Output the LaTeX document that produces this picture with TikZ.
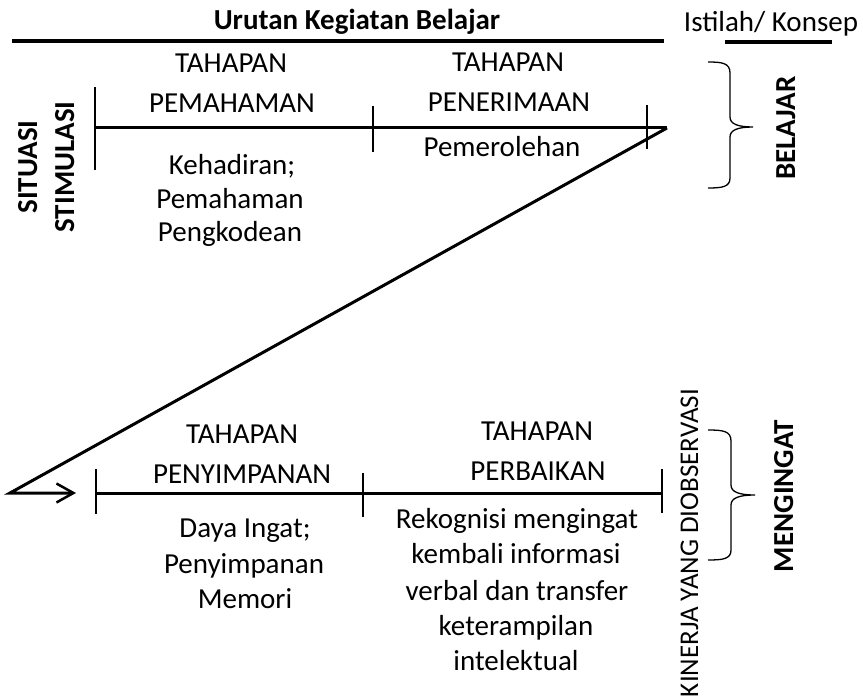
\documentclass[tikz,border=0pt]{standalone}
\usepackage{fontspec}
\setmainfont{Carlito}
\usetikzlibrary{arrows.meta}
\tikzset{
  txt/.style={font=\fontsize{29}{35}\selectfont, anchor=base, inner sep=0pt},
  btxt/.style={font=\fontsize{29}{35}\selectfont\bfseries, anchor=base, inner sep=0pt},
  rtxt/.style={font=\fontsize{27}{33}\selectfont, anchor=base, inner sep=0pt, rotate=90},
  rbtxt/.style={font=\fontsize{29}{35}\selectfont\bfseries, anchor=base, inner sep=0pt, rotate=90},
  mainline/.style={line width=3pt},
  tick/.style={line width=2pt},
  rule/.style={line width=4pt},
  bracepath/.style={line width=1.3pt}
}
\begin{document}
\begin{tikzpicture}[x=1pt,y=-1pt]
\useasboundingbox (0,0) rectangle (863,698);
% header
\node[btxt] (title) at (357,30) {Urutan Kegiatan Belajar};
\node[txt] (istilah) at (771,32) {Istilah/ Konsep};
\coordinate (r1a) at (12,41); \coordinate (r1b) at (664,41);
\draw[rule] (r1a) -- (r1b);
\coordinate (r2a) at (725,42); \coordinate (r2b) at (832,42);
\draw[rule] (r2a) -- (r2b);
% upper timeline
\coordinate (u0) at (95,128); \coordinate (u1) at (667,128);
\draw[mainline] (u0) -- (u1);
\coordinate (t1a) at (95,87); \coordinate (t1b) at (95,170);
\coordinate (t2a) at (373,106); \coordinate (t2b) at (373,152);
\coordinate (t3a) at (647,105); \coordinate (t3b) at (647,149);
\draw[tick] (t1a) -- (t1b);
\draw[tick] (t2a) -- (t2b);
\draw[tick] (t3a) -- (t3b);
% diagonal and arrow
\coordinate (v) at (10,493); \coordinate (atip) at (76,493);
\draw[mainline, -{Straight Barb[length=17pt,width=19pt,line width=2.5pt]}] (u1) -- (v) -- (atip);
% lower timeline
\coordinate (l0) at (96,493); \coordinate (l1) at (662,493);
\draw[mainline] (l0) -- (l1);
\coordinate (s1a) at (96,469); \coordinate (s1b) at (96,514);
\coordinate (s2a) at (363,473); \coordinate (s2b) at (363,517);
\coordinate (s3a) at (662,469); \coordinate (s3b) at (662,513);
\draw[tick] (s1a) -- (s1b);
\draw[tick] (s2a) -- (s2b);
\draw[tick,line width=2.5pt] (s3a) -- (s3b);
% upper texts
\node[txt] (ta1) at (231,73) {TAHAPAN};
\node[txt] (pm) at (232,113) {PEMAHAMAN};
\node[txt] (ta2) at (508,72) {TAHAPAN};
\node[txt] (pn) at (509,112) {PENERIMAAN};
\node[txt] (po) at (502,157) {Pemerolehan};
\node[txt] (kh) at (232,175) {Kehadiran;};
\node[txt] (ph) at (230,208) {Pemahaman};
\node[txt] (pk) at (230,241) {Pengkodean};
% lower texts
\node[txt] (ta3) at (242,443) {TAHAPAN};
\node[txt] (py) at (242,483) {PENYIMPANAN};
\node[txt] (ta4) at (537,440) {TAHAPAN};
\node[txt] (pb) at (538,480) {PERBAIKAN};
\node[txt] (di) at (245,537) {Daya Ingat;};
\node[txt] (ps) at (244,573) {Penyimpanan};
\node[txt] (mm) at (245,608) {Memori};
\node[txt] (rk) at (517,528) {Rekognisi mengingat};
\node[txt] (kb) at (516,563) {kembali informasi};
\node[txt] (vb) at (517,600) {verbal dan transfer};
\node[txt] (kt) at (516,635) {keterampilan};
\node[txt] (it) at (516,670) {intelektual};
% rotated texts
\node[rbtxt] (sit) at (37,167) {SITUASI};
\node[rbtxt] (stm) at (74,167) {STIMULASI};
\node[rbtxt] (bel) at (795,128) {BELAJAR};
\node[rbtxt] (men) at (793,496) {MENGINGAT};
\node[rtxt] (kin) at (698,543) {KINERJA YANG DIOBSERVASI};
% braces
\draw[bracepath] (708,62) .. controls (722,62) and (730,63) .. (730,73) -- (730,117)
  .. controls (730,124) and (738,127) .. (753,127)
  .. controls (738,127) and (730,130) .. (730,137) -- (730,178)
  .. controls (730,187) and (722,188) .. (708,188);
\draw[bracepath] (708,430) .. controls (723,430) and (731,431) .. (731,441) -- (731,485)
  .. controls (731,492) and (739,495) .. (755,495)
  .. controls (739,495) and (731,498) .. (731,505) -- (731,550)
  .. controls (731,559) and (723,560) .. (708,560);
\end{tikzpicture}
\end{document}
